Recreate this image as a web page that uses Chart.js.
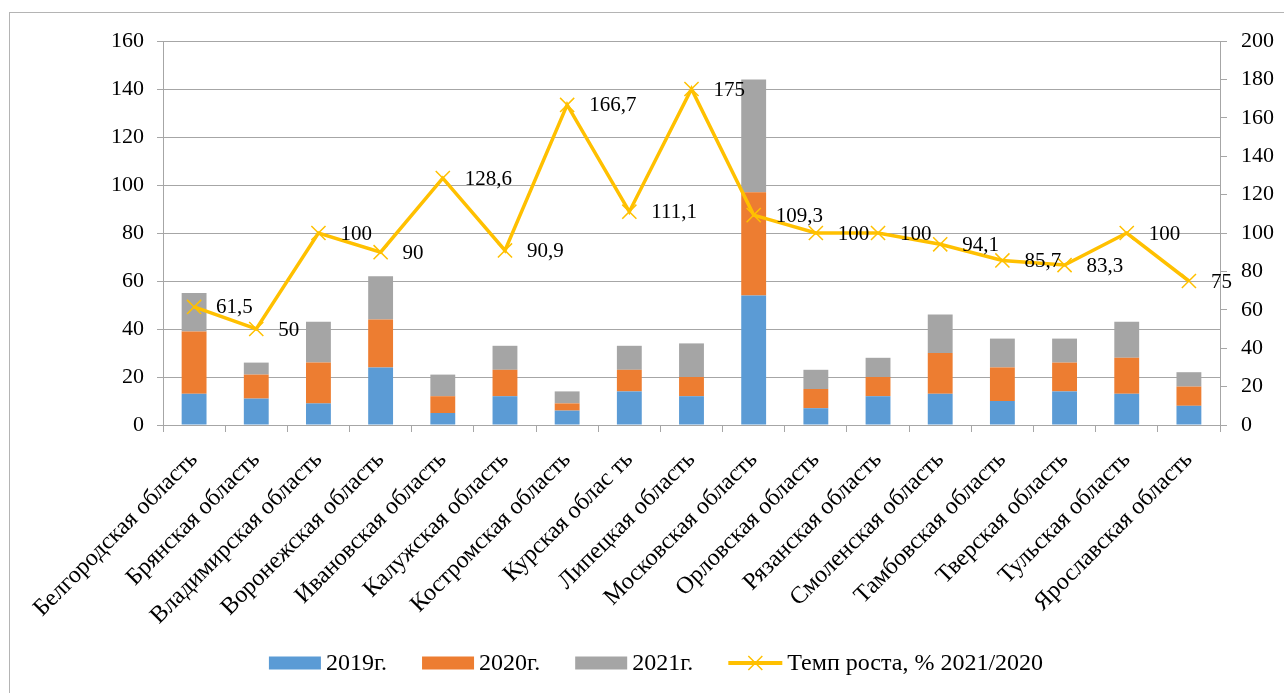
<!DOCTYPE html>
<html>
<head>
<meta charset="utf-8">
<script src="https://cdn.jsdelivr.net/npm/chart.js@4.4.1/dist/chart.umd.min.js"></script>
<style>
html,body{margin:0;padding:0;background:#ffffff;}
#wrap{width:1284px;height:693px;position:relative;overflow:hidden;}
canvas{display:block;}
</style>
</head>
<body>
<div id="wrap"><canvas id="c" width="1284" height="693"></canvas></div>
<script>
const categories = [
  'Белгородская область','Брянская область','Владимирская область','Воронежская область',
  'Ивановская область','Калужская область','Костромская область','Курская облас ть',
  'Липецкая область','Московская область','Орловская область','Рязанская область',
  'Смоленская область','Тамбовская область','Тверская область','Тульская область',
  'Ярославская область'
];
const v2019 = [13, 11, 9, 24, 5, 12, 6, 14, 12, 54, 7, 12, 13, 10, 14, 13, 8];
const v2020 = [26, 10, 17, 20, 7, 11, 3, 9, 8, 43, 8, 8, 17, 14, 12, 15, 8];
const v2021 = [16, 5, 17, 18, 9, 10, 5, 10, 14, 47, 8, 8, 16, 12, 10, 15, 6];
const growth = [61.5, 50, 100, 90, 128.6, 90.9, 166.7, 111.1, 175, 109.3, 100, 100, 94.1, 85.7, 83.3, 100, 75];
const seriesNames = ['2019г.', '2020г.', '2021г.', 'Темп роста, % 2021/2020'];
const leftTicks = [0, 20, 40, 60, 80, 100, 120, 140, 160];
const rightTicks = [0, 20, 40, 60, 80, 100, 120, 140, 160, 180, 200];

const COLORS = ['#5B9BD5', '#ED7D31', '#A5A5A5', '#FFC000'];
const FONT = "'Liberation Serif', 'Times New Roman', serif";
const GRID = '#a6a6a6';

const borderPlugin = {
  id: 'outerBorder',
  beforeDraw(chart) {
    const ctx = chart.ctx;
    ctx.save();
    ctx.fillStyle = '#ffffff';
    ctx.fillRect(0, 0, chart.width, chart.height);
    ctx.strokeStyle = '#b4b4b4';
    ctx.lineWidth = 1;
    ctx.strokeRect(9.5, 12.5, chart.width + 10, chart.height + 10);
    ctx.restore();
  }
};

const labelPlugin = {
  id: 'pointLabels',
  afterDatasetsDraw(chart) {
    const ctx = chart.ctx;
    const meta = chart.getDatasetMeta(3);
    ctx.save();
    ctx.font = '21px ' + FONT;
    ctx.fillStyle = '#000000';
    ctx.textAlign = 'left';
    ctx.textBaseline = 'middle';
    meta.data.forEach((pt, i) => {
      const txt = String(growth[i]).replace('.', ',');
      ctx.fillText(txt, pt.x + 22, pt.y + 1);
    });
    ctx.restore();
  }
};

const legendPlugin = {
  id: 'customLegend',
  afterDraw(chart) {
    const ctx = chart.ctx;
    ctx.save();
    ctx.font = '24px ' + FONT;
    const sw = 52, lineSw = 54, gap = 5, itemGap = 35;
    const widths = seriesNames.map((n, i) => (i < 3 ? sw : lineSw) + gap + ctx.measureText(n).width);
    const total = widths.reduce((a, b) => a + b, 0) + itemGap * (widths.length - 1);
    let x = 656 - total / 2;
    const cy = 663;
    seriesNames.forEach((n, i) => {
      if (i < 3) {
        ctx.fillStyle = COLORS[i];
        ctx.fillRect(x, cy - 6.5, sw, 13);
        x += sw + gap;
      } else {
        ctx.strokeStyle = COLORS[3];
        ctx.lineWidth = 4;
        ctx.beginPath();
        ctx.moveTo(x, cy);
        ctx.lineTo(x + lineSw, cy);
        ctx.stroke();
        ctx.lineWidth = 1.5;
        const cx = x + lineSw / 2, r = 7;
        ctx.beginPath();
        ctx.moveTo(cx - r, cy - r); ctx.lineTo(cx + r, cy + r);
        ctx.moveTo(cx + r, cy - r); ctx.lineTo(cx - r, cy + r);
        ctx.stroke();
        x += lineSw + gap;
      }
      ctx.fillStyle = '#000000';
      ctx.textAlign = 'left';
      ctx.textBaseline = 'middle';
      ctx.fillText(n, x, cy + 1);
      x += ctx.measureText(n).width + itemGap;
    });
    ctx.restore();
  }
};

const barDs = (i, data) => ({
  type: 'bar',
  label: seriesNames[i],
  data: data,
  backgroundColor: COLORS[i],
  borderWidth: 0,
  yAxisID: 'y',
  stack: 'a',
  order: 2,
  barPercentage: 0.4,
  categoryPercentage: 1.0
});

new Chart(document.getElementById('c'), {
  data: {
    labels: categories,
    datasets: [
      barDs(0, v2019),
      barDs(1, v2020),
      barDs(2, v2021),
      {
        type: 'line',
        label: seriesNames[3],
        data: growth,
        yAxisID: 'y1',
        borderColor: COLORS[3],
        backgroundColor: COLORS[3],
        borderWidth: 3.5,
        tension: 0,
        pointStyle: 'crossRot',
        pointRadius: 10,
        pointBorderWidth: 1.5,
        pointBorderColor: COLORS[3],
        order: 0
      }
    ]
  },
  options: {
    responsive: false,
    animation: false,
    layout: { padding: { top: 41, left: 0, right: 0, bottom: 0 } },
    plugins: {
      legend: { display: false },
      tooltip: { enabled: false }
    },
    scales: {
      x: {
        stacked: true,
        offset: true,
        grid: { offset: true, drawOnChartArea: false, drawTicks: true, tickLength: 7, color: GRID, lineWidth: 1 },
        border: { display: true, color: GRID, width: 1 },
        ticks: {
          autoSkip: false, maxRotation: 45, minRotation: 45, padding: 14,
          color: '#000000', font: { family: FONT, size: 24 }
        },
        afterFit(s) { s.height = 268; }
      },
      y: {
        stacked: true,
        position: 'left',
        min: 0, max: 160,
        afterBuildTicks(s) { s.ticks = leftTicks.map(v => ({ value: v })); },
        grid: { color: GRID, lineWidth: 1, tickLength: 6, drawTicks: true },
        border: { display: true, color: GRID, width: 1 },
        ticks: { padding: 13, color: '#000000', font: { family: FONT, size: 22 } },
        afterFit(s) { s.width = 163; }
      },
      y1: {
        stacked: false,
        position: 'right',
        min: 0, max: 200,
        afterBuildTicks(s) { s.ticks = rightTicks.map(v => ({ value: v })); },
        grid: { drawOnChartArea: false, color: GRID, lineWidth: 1, tickLength: 7, drawTicks: true },
        border: { display: true, color: GRID, width: 1 },
        ticks: { padding: 14, color: '#000000', font: { family: FONT, size: 22 } },
        afterFit(s) { s.width = 64; }
      }
    }
  },
  plugins: [borderPlugin, labelPlugin, legendPlugin]
});
</script>
</body>
</html>
